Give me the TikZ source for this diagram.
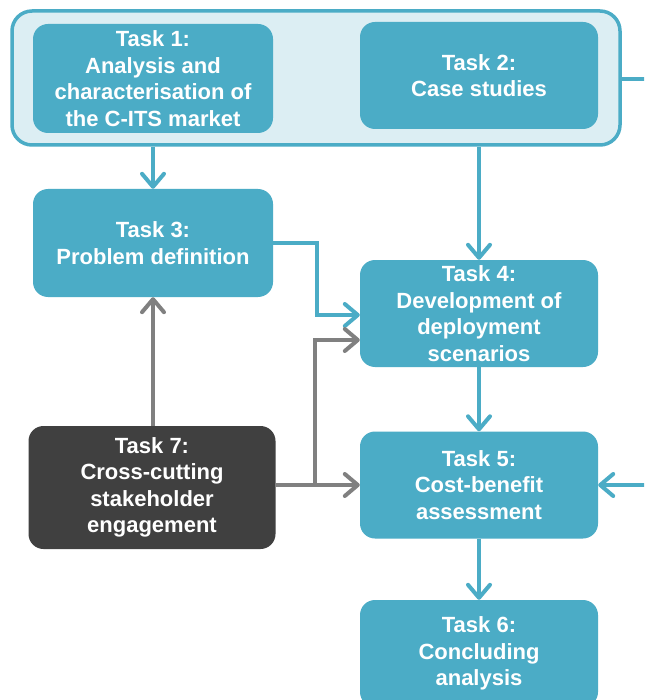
\documentclass[tikz,border=0pt]{standalone}
\usepackage{fontspec}
\setmainfont{Liberation Sans}
\usetikzlibrary{arrows.meta}
\definecolor{tealbox}{HTML}{4BACC6}
\definecolor{lightbg}{HTML}{DCEEF3}
\definecolor{darkbox}{HTML}{404040}
\definecolor{greyline}{HTML}{808080}
\tikzset{
  taskbox/.style={rectangle, rounded corners=15pt, fill=tealbox, text=white,
    align=center, inner sep=0pt, minimum width=238pt, minimum height=107pt,
    font=\bfseries\fontsize{22}{26.5}\selectfont},
  darktask/.style={taskbox, fill=darkbox, minimum width=247pt, minimum height=123pt},
  container/.style={rectangle, rounded corners=20pt, fill=lightbg, draw=tealbox,
    line width=3.5pt, minimum width=608pt, minimum height=134pt, inner sep=0pt},
  bluearrow/.style={draw=tealbox, line width=4pt,
    -{Straight Barb[length=13pt,width=22pt,line width=4pt,round]}},
  greyarrow/.style={draw=greyline, line width=4pt,
    -{Straight Barb[length=13pt,width=22pt,line width=4pt,round]}},
  blueline/.style={draw=tealbox, line width=4pt},
}
\begin{document}
\begin{tikzpicture}[x=1pt,y=-1pt]
\clip (0,0) rectangle (644,700);
\fill[white] (0,0) rectangle (644,700);

\node[container] (cont) at (316,78) {};
\node[taskbox, minimum width=240pt, minimum height=109pt] (t1) at (153,78.5)
  {Task 1:\\Analysis and\\characterisation of\\the C-ITS market};
\node[taskbox] (t2) at (479,75.5) {Task 2:\\Case studies};
\node[taskbox, minimum width=240pt, minimum height=108pt] (t3) at (153,243)
  {Task 3:\\Problem definition};
\node[taskbox] (t4) at (479,313.5)
  {Task 4:\\Development of\\deployment\\scenarios};
\node[taskbox] (t5) at (479,485) {Task 5:\\Cost-benefit\\assessment};
\node[taskbox] (t6) at (479,653.5) {Task 6:\\Concluding\\analysis};
\node[darktask] (t7) at (152,487.5)
  {Task 7:\\Cross-cutting\\stakeholder\\engagement};

% coordinates for bends and free ends
\coordinate (j1) at (317,315);
\coordinate (j2) at (315,485);
\coordinate (j3) at (315,340);
\coordinate (offtop) at (660,79);
\coordinate (offmid) at (660,485);

% blue connectors
\draw[bluearrow] (cont.south -| t3.north) -- (t3.north);
\draw[bluearrow] (cont.south -| t4.north) -- (t4.north);
\draw[bluearrow] (t3.east) -| (j1) -- (j1 -| t4.west);
\draw[bluearrow] (t4.south) -- (t5.north);
\draw[bluearrow] (t5.south) -- (t6.north);
\draw[blueline] (cont.east |- offtop) -- (offtop);
\draw[bluearrow] (offmid) -- (t5.east);

% grey connectors
\draw[greyarrow] (t7.north -| t3.south) -- (t3.south);
\draw[greyarrow] (t7.east |- t5.west) -- (t5.west);
\draw[greyarrow] (j2) -- (j3) -- (j3 -| t4.west);
\end{tikzpicture}
\end{document}
